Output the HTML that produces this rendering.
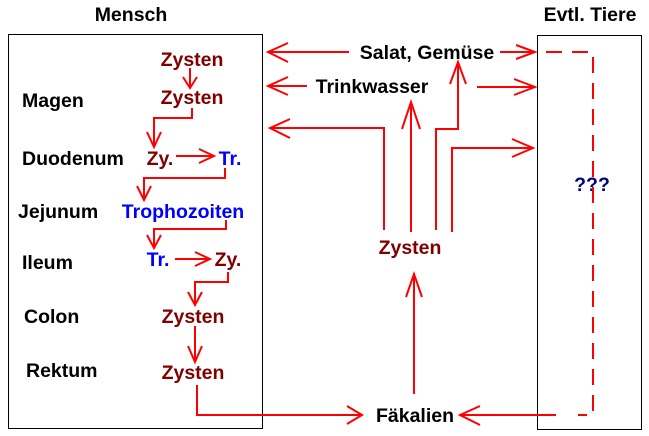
<!DOCTYPE html>
<html><head><meta charset="utf-8"><style>
html,body{margin:0;padding:0;background:#fff;}
svg{display:block;}
text{font-family:"Liberation Sans",sans-serif;font-weight:bold;font-size:19.5px;}
.d{fill:#800000}.b{fill:#0000ff}.k{fill:#000}
</style></head><body>
<svg width="649" height="436" viewBox="0 0 649 436" xmlns="http://www.w3.org/2000/svg">
<rect x="8.5" y="34.5" width="254" height="394" fill="none" stroke="#000"/>
<rect x="537.5" y="35.5" width="104" height="394" fill="none" stroke="#000"/>
<text x="131" y="21" text-anchor="middle" class="k">Mensch</text>
<text x="590" y="21" text-anchor="middle" class="k">Evtl. Tiere</text>
<g class="k">
<text x="22" y="107">Magen</text>
<text x="22" y="165">Duodenum</text>
<text x="18" y="218">Jejunum</text>
<text x="22" y="269">Ileum</text>
<text x="24" y="323">Colon</text>
<text x="26" y="377">Rektum</text>
</g>
<text x="192" y="66" text-anchor="middle" class="d">Zysten</text>
<text x="192" y="104" text-anchor="middle" class="d">Zysten</text>
<text x="160" y="165" text-anchor="middle" class="d">Zy.</text>
<text x="230" y="165" text-anchor="middle" class="b">Tr.</text>
<text x="183" y="218" text-anchor="middle" class="b">Trophozoiten</text>
<text x="158" y="266" text-anchor="middle" class="b">Tr.</text>
<text x="228" y="266" text-anchor="middle" class="d">Zy.</text>
<text x="193" y="323" text-anchor="middle" class="d">Zysten</text>
<text x="193" y="379" text-anchor="middle" class="d">Zysten</text>
<text x="427" y="59" text-anchor="middle" class="k">Salat, Gemüse</text>
<text x="372" y="93" text-anchor="middle" class="k">Trinkwasser</text>
<text x="410" y="254" text-anchor="middle" class="d">Zysten</text>
<text x="415" y="422" text-anchor="middle" class="k">Fäkalien</text>
<text x="592" y="191" text-anchor="middle" style="fill:#000080">???</text>
<g fill="none" stroke="#f00" stroke-width="2">
<path d="M190 68V88M183 77L190 88L197 77"/>
<path d="M192 108V118H154V147M147 132L154 147L161 132"/>
<path d="M176 156H214M199 149L214 156L199 163"/>
<path d="M225 168V178H144V200M137 186L144 200L151 186"/>
<path d="M226 220V229H154V248M147 235L154 248L161 235"/>
<path d="M175 259H210M195 252L210 259L195 266"/>
<path d="M228 272V282H195V305M188 292L195 305L202 292"/>
<path d="M195 326V362M188 346L195 362L202 346"/>
<path d="M197 385V415H362M347 406L362 415L347 424"/>
<path d="M349 52H268M288 43L268 52L288 62"/>
<path d="M500 52H535M516 45L535 52L516 59"/>
<path d="M307 86H268M288 77L268 86L288 95"/>
<path d="M477 87H535M514 79L535 87L514 95"/>
<path d="M384 230V128H270M290 119L270 128L290 138"/>
<path d="M411 232V102M402 129L411 102L420 129"/>
<path d="M436 230V129H458V62M450 84L458 62L466 84"/>
<path d="M452 232V148H533M512 139L533 148L512 157"/>
<path d="M414 394V274M406 297L414 274L422 297"/>
<path d="M556 415H460M480 406L460 415L480 425"/>
<path d="M546 52H593V415H578" stroke-dasharray="16,10"/>
</g>
</svg>
</body></html>
